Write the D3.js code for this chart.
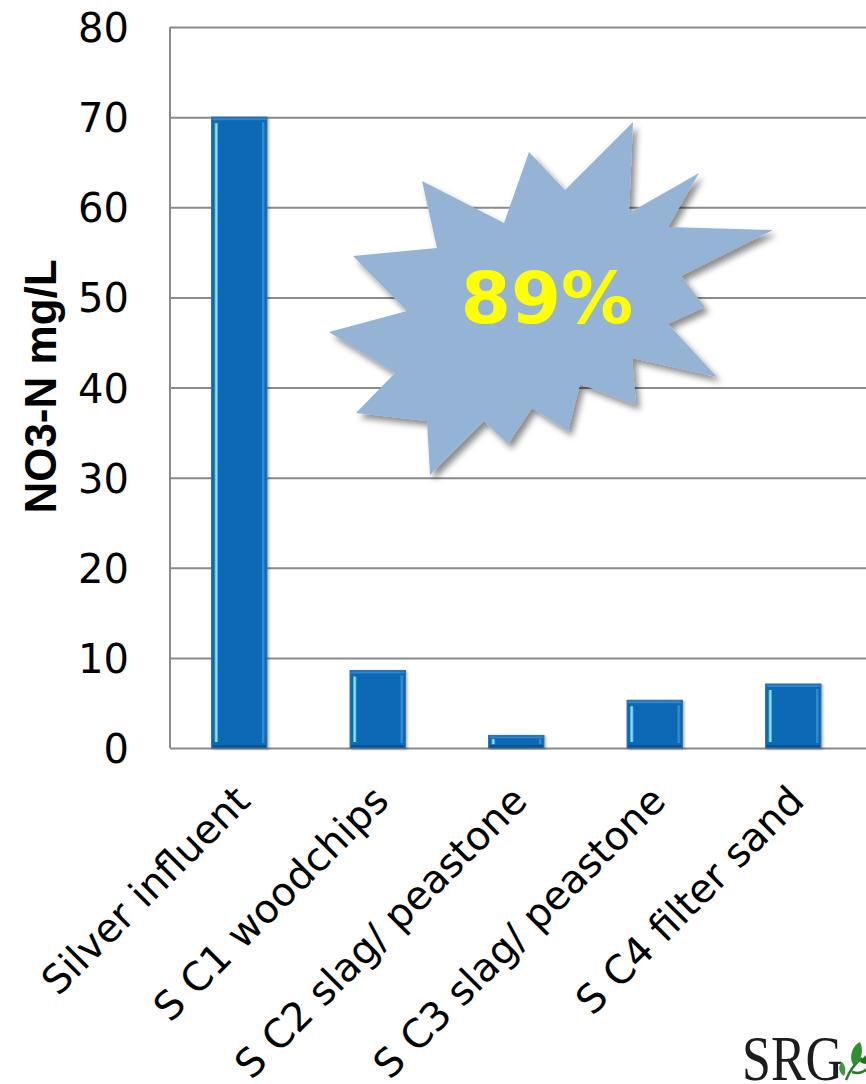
<!DOCTYPE html>
<html>
<head>
<meta charset="utf-8">
<script src="https://cdn.jsdelivr.net/npm/d3@7"></script>
<style>
  html, body { margin: 0; padding: 0; background: #fff; }
  svg { display: block; }
</style>
</head>
<body>
<svg id="chart" width="866" height="1084"></svg>
<script>
// ---- data ----
const categories = ["Silver influent", "S C1 woodchips", "S C2 slag/ peastone", "S C3 slag/ peastone", "S C4 filter sand"];
const values = [70, 8.6, 1.4, 5.3, 7.1];
const yTicks = [0, 10, 20, 30, 40, 50, 60, 70, 80];
const yTitle = "NO3-N mg/L";
const calloutText = "89%";
const logoText = "SRG";

// starburst outline, offsets from the burst centre (outer / inner points alternate)
const burstOffsets = [
  [-128, -119], [-46, -77], [-21, -148], [15, -110], [83, -178], [79, -87],
  [149, -127], [118, -73], [223, -70], [131, -24], [155, 7], [118, 24],
  [167, 77], [82, 58], [86, 105], [30, 84], [18, 131], [-18, 108],
  [-42, 144], [-66, 121], [-120, 175], [-123, 121], [-194, 113], [-155, 73],
  [-221, 32], [-143, 11], [-197, -44], [-113, -52]
];

// ---- layout ----
const W = 866, H = 1084;
const plot = { left: 170, right: 862.5, top: 27, bottom: 748 };

const svg = d3.select("#chart");
svg.append("rect").attr("width", W).attr("height", H).attr("fill", "#fff");

const defs = svg.append("defs");
const burstShadow = defs.append("filter").attr("id", "burstShadow")
  .attr("x", "-20%").attr("y", "-20%").attr("width", "140%").attr("height", "140%");
burstShadow.append("feDropShadow").attr("dx", 4).attr("dy", 5).attr("stdDeviation", 3)
  .attr("flood-color", "#000").attr("flood-opacity", 0.45);

const barShadow = defs.append("filter").attr("id", "barShadow")
  .attr("x", "-20%").attr("y", "-5%").attr("width", "140%").attr("height", "115%");
barShadow.append("feDropShadow").attr("dx", 1.5).attr("dy", 1).attr("stdDeviation", 1.2)
  .attr("flood-color", "#000").attr("flood-opacity", 0.3);

const soft = defs.append("filter").attr("id", "soft");
soft.append("feGaussianBlur").attr("stdDeviation", 0.6);

const hl = defs.append("linearGradient").attr("id", "leftHighlight")
  .attr("x1", "0").attr("x2", "1").attr("y1", "0").attr("y2", "0");
hl.append("stop").attr("offset", "0%").attr("stop-color", "#3fa6e6");
hl.append("stop").attr("offset", "50%").attr("stop-color", "#9af0ff");
hl.append("stop").attr("offset", "100%").attr("stop-color", "#2d8fd6");

// ---- scales ----
const x = d3.scaleBand()
  .domain(categories)
  .range([plot.left, plot.right])
  .paddingInner(0.6)
  .paddingOuter(0.3);

const y = d3.scaleLinear()
  .domain([0, 80])
  .range([plot.bottom, plot.top]);

// ---- gridlines ----
const grid = svg.append("g")
  .attr("transform", `translate(${plot.left},0)`)
  .call(d3.axisLeft(y).tickValues(yTicks).tickSize(-(W - plot.left)).tickFormat(""));
grid.select(".domain").remove();
grid.selectAll(".tick line").attr("stroke", "#8a8a8a").attr("stroke-width", 2);

// left axis line
svg.append("line")
  .attr("x1", plot.left).attr("x2", plot.left)
  .attr("y1", y(0)).attr("y2", y(80))
  .attr("stroke", "#8a8a8a").attr("stroke-width", 2);

// tick labels
const yAxis = svg.append("g")
  .attr("transform", `translate(${plot.left},0)`)
  .call(d3.axisLeft(y).tickValues(yTicks).tickSize(0).tickPadding(41));
yAxis.select(".domain").remove();
yAxis.selectAll("text")
  .attr("font-family", "'DejaVu Sans', sans-serif")
  .attr("font-size", 40)
  .attr("fill", "#000")
  .attr("dy", "0.365em");

// axis title
svg.append("text")
  .attr("transform", `translate(56,${(y(0) + y(80)) / 2 - 1}) rotate(-90)`)
  .attr("text-anchor", "middle")
  .attr("font-family", "'Liberation Sans', Arial, sans-serif")
  .attr("font-weight", "bold")
  .attr("font-size", 44)
  .attr("fill", "#000")
  .text(yTitle);

// ---- bars with a bevel look ----
const bw = x.bandwidth();
const bars = svg.append("g").selectAll("g.bar")
  .data(categories.map((c, i) => ({ c, v: values[i] })))
  .join("g")
  .attr("class", "bar")
  .attr("transform", d => `translate(${x(d.c)},${y(d.v)})`);

bars.append("rect")
  .attr("width", bw)
  .attr("height", d => y(0) - y(d.v))
  .attr("fill", "#0769b5")
  .attr("stroke", "#3c6f9c")
  .attr("stroke-width", 1)
  .attr("filter", "url(#barShadow)");

// top bevel
bars.append("rect")
  .attr("x", 1).attr("y", 1)
  .attr("width", bw - 2).attr("height", 2)
  .attr("fill", "#2b86cf");

// bottom bevel
bars.append("rect")
  .attr("x", 1).attr("y", d => y(0) - y(d.v) - 3)
  .attr("width", bw - 2).attr("height", 2.5)
  .attr("fill", "#0a5493");

// left highlight strip
bars.append("rect")
  .attr("x", 3)
  .attr("y", d => Math.min(6, (y(0) - y(d.v)) * 0.3))
  .attr("width", 3.5)
  .attr("height", d => Math.max(0, (y(0) - y(d.v)) - 2 * Math.min(6, (y(0) - y(d.v)) * 0.3)))
  .attr("fill", "url(#leftHighlight)");

// right edge strip
bars.append("rect")
  .attr("x", bw - 5)
  .attr("y", d => Math.min(5, (y(0) - y(d.v)) * 0.3))
  .attr("width", 2.5)
  .attr("height", d => Math.max(0, (y(0) - y(d.v)) - 2 * Math.min(5, (y(0) - y(d.v)) * 0.3)))
  .attr("fill", "#3a93d6")
  .attr("opacity", 0.8);

// ---- category labels ----
svg.append("g").selectAll("text")
  .data(categories)
  .join("text")
  .attr("transform", c => `translate(${x(c) + bw / 2 + 13},${y(0) + 55}) rotate(-45)`)
  .attr("text-anchor", "end")
  .attr("font-family", "'DejaVu Sans', sans-serif")
  .attr("font-size", 39.5)
  .attr("fill", "#000")
  .text(c => c);

// ---- starburst callout ----
const burstCenter = [550, 300];
const burst = svg.append("g").attr("transform", `translate(${burstCenter[0]},${burstCenter[1]})`);
burst.append("path")
  .attr("d", d3.line()(burstOffsets) + "Z")
  .attr("fill", "#95b3d4")
  .attr("filter", "url(#burstShadow)");
burst.append("text")
  .attr("x", -3).attr("y", 23)
  .attr("text-anchor", "middle")
  .attr("font-family", "'DejaVu Sans', sans-serif")
  .attr("font-weight", "bold")
  .attr("font-size", 72)
  .attr("fill", "#ffff00")
  .text(calloutText);

// ---- logo ----
const logo = svg.append("g").attr("filter", "url(#soft)");
logo.append("text")
  .attr("transform", "translate(742,1080) scale(1,1.2)")
  .attr("font-family", "'Liberation Serif', 'Times New Roman', serif")
  .attr("font-size", 52)
  .attr("fill", "#1c1c1c")
  .text(logoText);
const leaf = logo.append("g").attr("transform", "translate(856,1062)");
leaf.append("path")
  .attr("d", "M-10,18 C-6,8 -2,2 6,-4 M-4,10 C2,12 8,10 12,6")
  .attr("stroke", "#2a7a2a").attr("stroke-width", 2.5).attr("fill", "none");
leaf.append("path")
  .attr("d", "M-2,4 C-8,-4 -4,-16 4,-20 C8,-12 6,-2 -2,4 Z")
  .attr("fill", "#2f8f2f");
leaf.append("path")
  .attr("d", "M4,0 C8,-8 16,-10 20,-6 C16,2 10,4 4,0 Z")
  .attr("fill", "#1f6e1f");
leaf.append("path")
  .attr("d", "M-12,14 C-18,10 -18,4 -14,0 C-10,4 -10,10 -12,14 Z")
  .attr("fill", "#3a9a3a");
</script>
</body>
</html>
